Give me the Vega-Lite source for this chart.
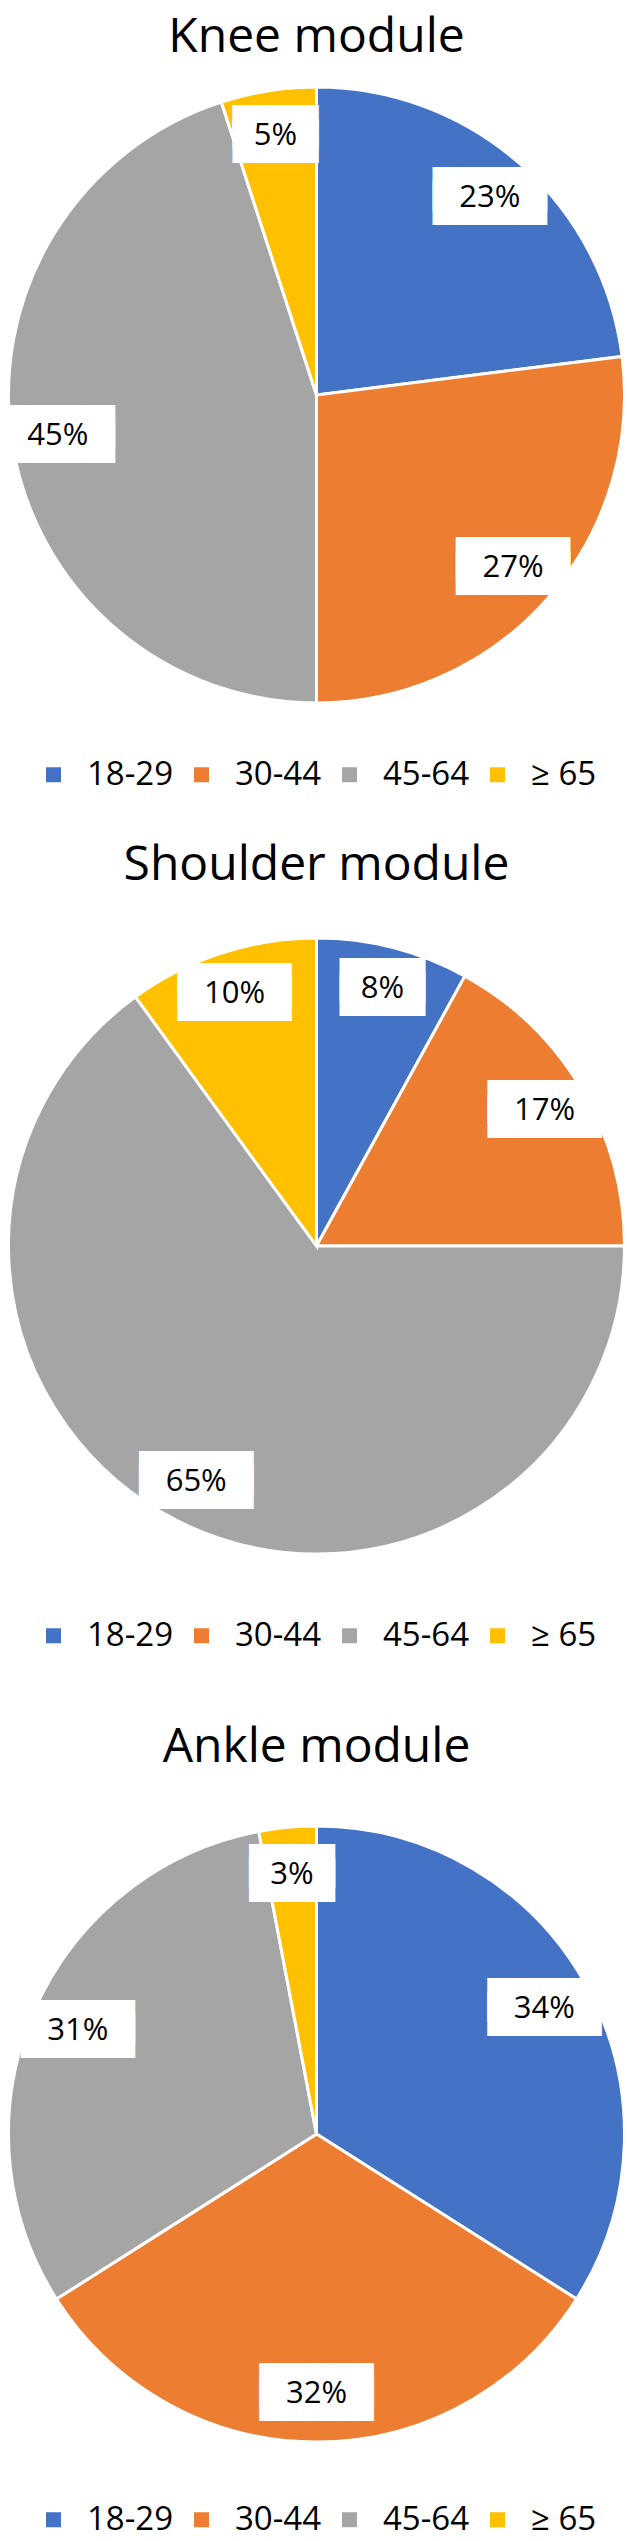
{
  "$schema": "https://vega.github.io/schema/vega-lite/v6.json",
  "padding": {"top": 14, "left": 0, "right": 0, "bottom": 4},
  "background": "white",
  "spacing": 50,
  "config": {
    "view": {"stroke": null},
    "title": {"font": "Open Sans", "fontSize": 48, "fontWeight": "normal", "color": "#000000", "anchor": "middle", "baseline": "top"},
    "legend": {
      "orient": "bottom", "direction": "horizontal", "title": null,
      "symbolType": "square", "symbolSize": 225, "symbolStrokeWidth": 0,
      "labelFont": "Open Sans", "labelFontSize": 33, "labelColor": "#000000",
      "labelOffset": 17, "columnPadding": 11,
      "layout": {"bottom": {"anchor": "middle"}}
    },
    "text": {"baseline": "middle", "align": "center"}
  },
  "datasets": {
    "knee": [
      {"group": "18-29", "i": 1, "v": 0.23},
      {"group": "30-44", "i": 2, "v": 0.27},
      {"group": "45-64", "i": 3, "v": 0.45},
      {"group": "≥ 65", "i": 4, "v": 0.05}
    ],
    "shoulder": [
      {"group": "18-29", "i": 1, "v": 0.08},
      {"group": "30-44", "i": 2, "v": 0.17},
      {"group": "45-64", "i": 3, "v": 0.65},
      {"group": "≥ 65", "i": 4, "v": 0.10}
    ],
    "ankle": [
      {"group": "18-29", "i": 1, "v": 0.34},
      {"group": "30-44", "i": 2, "v": 0.32},
      {"group": "45-64", "i": 3, "v": 0.31},
      {"group": "≥ 65", "i": 4, "v": 0.03}
    ]
  },
  "vconcat": [
    {
      "width": 627, "height": 640,
      "title": {"text": "Knee module", "offset": 13},
      "data": {"name": "knee"},
      "encoding": {
        "theta": {"field": "v", "type": "quantitative", "stack": true},
        "order": {"field": "i", "type": "quantitative"}
      },
      "layer": [
        {
          "mark": {"type": "arc", "outerRadius": 308, "stroke": "#ffffff", "strokeWidth": 3},
          "encoding": {
            "color": {"field": "group", "type": "nominal",
              "scale": {"domain": ["18-29", "30-44", "45-64", "≥ 65"], "range": ["#4472C4", "#ED7D31", "#A5A5A5", "#FFC000"]},
              "legend": {"offset": 43}}
          }
        },
        {
          "mark": {"type": "text", "radius": 262, "font": "DejaVu Sans", "fontSize": 37, "fill": "#ffffff", "dy": -7},
          "encoding": {"text": {"condition": {"test": "datum.v < 0.1", "value": "███"}, "value": "████"}}
        },
        {
          "mark": {"type": "text", "radius": 262, "font": "DejaVu Sans", "fontSize": 37, "fill": "#ffffff", "dy": 7},
          "encoding": {"text": {"condition": {"test": "datum.v < 0.1", "value": "███"}, "value": "████"}}
        },
        {
          "mark": {"type": "text", "radius": 262, "font": "Open Sans", "fontSize": 31, "fill": "#000000"},
          "encoding": {"text": {"field": "v", "type": "quantitative", "format": ".0%"}}
        }
      ]
    },
    {
      "width": 627, "height": 640,
      "title": {"text": "Shoulder module", "offset": 36},
      "data": {"name": "shoulder"},
      "encoding": {
        "theta": {"field": "v", "type": "quantitative", "stack": true},
        "order": {"field": "i", "type": "quantitative"}
      },
      "layer": [
        {
          "mark": {"type": "arc", "outerRadius": 308, "stroke": "#ffffff", "strokeWidth": 3},
          "encoding": {
            "color": {"field": "group", "type": "nominal",
              "scale": {"domain": ["18-29", "30-44", "45-64", "≥ 65"], "range": ["#4472C4", "#ED7D31", "#A5A5A5", "#FFC000"]},
              "legend": {"offset": 53}}
          }
        },
        {
          "mark": {"type": "text", "radius": 265, "font": "DejaVu Sans", "fontSize": 37, "fill": "#ffffff", "dy": -7},
          "encoding": {"text": {"condition": {"test": "datum.v < 0.1", "value": "███"}, "value": "████"}}
        },
        {
          "mark": {"type": "text", "radius": 265, "font": "DejaVu Sans", "fontSize": 37, "fill": "#ffffff", "dy": 7},
          "encoding": {"text": {"condition": {"test": "datum.v < 0.1", "value": "███"}, "value": "████"}}
        },
        {
          "mark": {"type": "text", "radius": 265, "font": "Open Sans", "fontSize": 31, "fill": "#000000"},
          "encoding": {"text": {"field": "v", "type": "quantitative", "format": ".0%"}}
        }
      ]
    },
    {
      "width": 627, "height": 640,
      "title": {"text": ["", "Ankle module"], "lineHeight": 21, "offset": 42},
      "data": {"name": "ankle"},
      "encoding": {
        "theta": {"field": "v", "type": "quantitative", "stack": true},
        "order": {"field": "i", "type": "quantitative"}
      },
      "layer": [
        {
          "mark": {"type": "arc", "outerRadius": 308, "stroke": "#ffffff", "strokeWidth": 3},
          "encoding": {
            "color": {"field": "group", "type": "nominal",
              "scale": {"domain": ["18-29", "30-44", "45-64", "≥ 65"], "range": ["#4472C4", "#ED7D31", "#A5A5A5", "#FFC000"]},
              "legend": {"offset": 49}}
          }
        },
        {
          "mark": {"type": "text", "radius": 260, "font": "DejaVu Sans", "fontSize": 37, "fill": "#ffffff", "dy": -7},
          "encoding": {"text": {"condition": {"test": "datum.v < 0.1", "value": "███"}, "value": "████"}}
        },
        {
          "mark": {"type": "text", "radius": 260, "font": "DejaVu Sans", "fontSize": 37, "fill": "#ffffff", "dy": 7},
          "encoding": {"text": {"condition": {"test": "datum.v < 0.1", "value": "███"}, "value": "████"}}
        },
        {
          "mark": {"type": "text", "radius": 260, "font": "Open Sans", "fontSize": 31, "fill": "#000000"},
          "encoding": {"text": {"field": "v", "type": "quantitative", "format": ".0%"}}
        }
      ]
    }
  ],
  "resolve": {"scale": {"color": "independent"}, "legend": {"color": "independent"}}
}
